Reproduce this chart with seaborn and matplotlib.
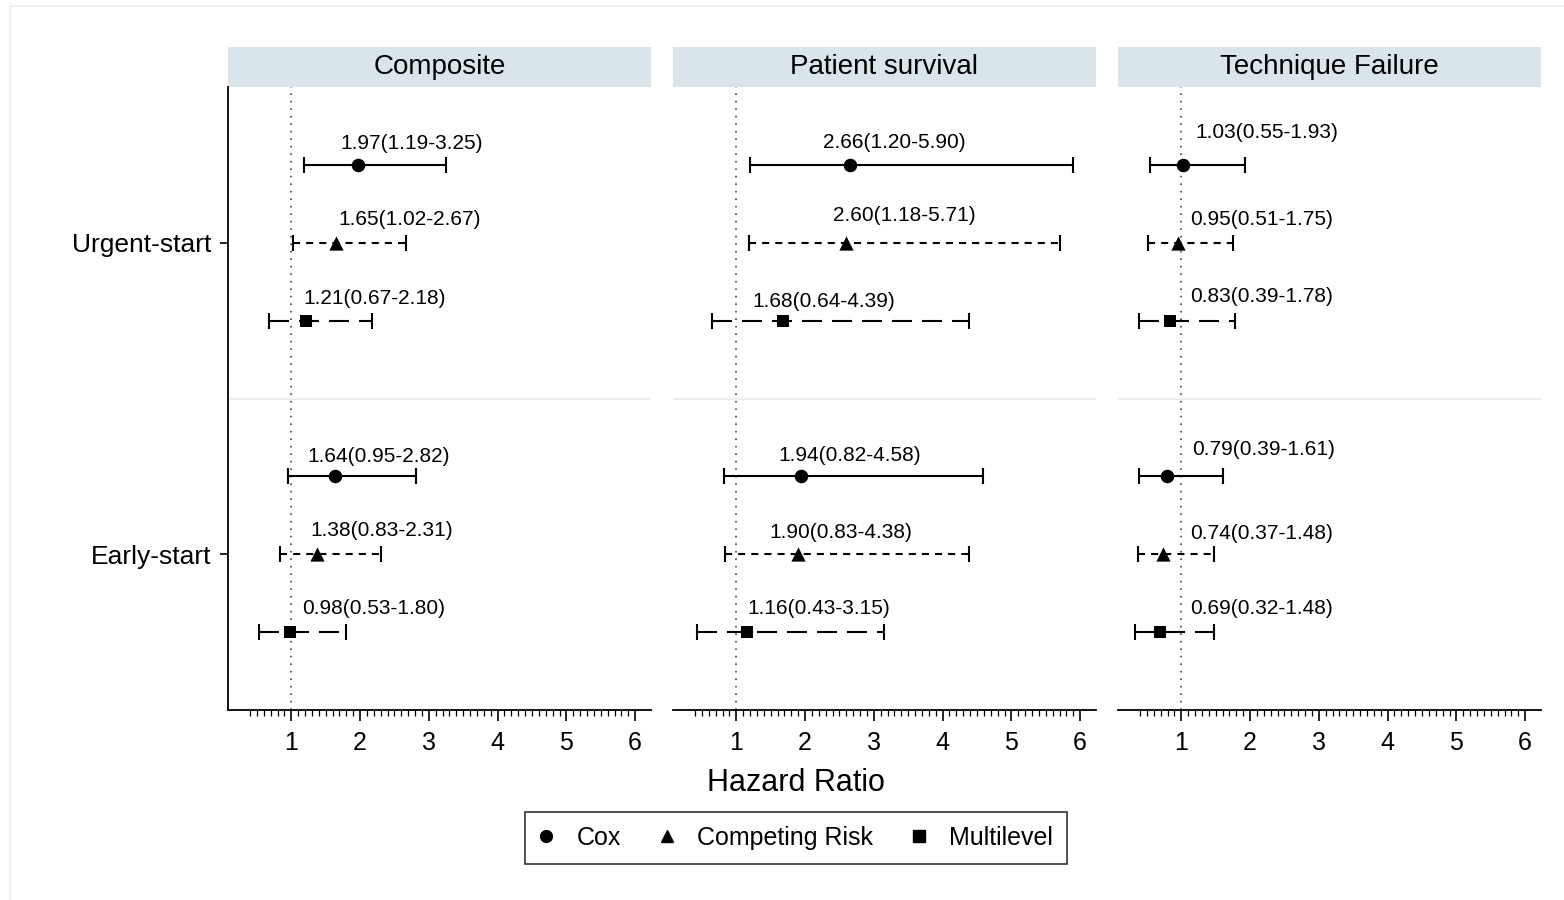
import matplotlib
matplotlib.use("Agg")
import matplotlib.pyplot as plt
from matplotlib.patches import Rectangle
from matplotlib.lines import Line2D
from matplotlib.ticker import FixedLocator
import seaborn as sns
import pandas as pd
import numpy as np

# ---------------- data ----------------
outcomes = ["Composite", "Patient survival", "Technique Failure"]
groups = ["Urgent-start", "Early-start"]
models = ["Cox", "Competing Risk", "Multilevel"]

# order: Urgent (Cox, CR, ML), Early (Cox, CR, ML)
composite_hr = [1.97, 1.65, 1.21, 1.64, 1.38, 0.98]
composite_lo = [1.19, 1.02, 0.67, 0.95, 0.83, 0.53]
composite_hi = [3.25, 2.67, 2.18, 2.82, 2.31, 1.80]

survival_hr = [2.66, 2.60, 1.68, 1.94, 1.90, 1.16]
survival_lo = [1.20, 1.18, 0.64, 0.82, 0.83, 0.43]
survival_hi = [5.90, 5.71, 4.39, 4.58, 4.38, 3.15]

technique_hr = [1.03, 0.95, 0.83, 0.79, 0.74, 0.69]
technique_lo = [0.55, 0.51, 0.39, 0.39, 0.37, 0.32]
technique_hi = [1.93, 1.75, 1.78, 1.61, 1.48, 1.48]

x_ticks = [1, 2, 3, 4, 5, 6]

# ---------------- layout (label placement) ----------------
row_pos = [7, 6, 5, 3, 2, 1]
label_left = [
    [1.71, 1.68, 1.17, 1.23, 1.28, 1.16],
    [2.26, 2.41, 1.23, 1.61, 1.48, 1.16],
    [1.20, 1.13, 1.13, 1.16, 1.13, 1.13],
]
label_y = [
    [7.27, 6.30, 5.29, 3.26, 2.30, 1.30],
    [7.29, 6.35, 5.25, 3.27, 2.28, 1.30],
    [7.41, 6.30, 5.31, 3.34, 2.27, 1.30],
]

rows = []
for oi, (o, hr, lo, hi) in enumerate(zip(
        outcomes,
        [composite_hr, survival_hr, technique_hr],
        [composite_lo, survival_lo, technique_lo],
        [composite_hi, survival_hi, technique_hi])):
    for i in range(6):
        rows.append(dict(outcome=o, group=groups[i // 3], model=models[i % 3],
                         hr=hr[i], lo=lo[i], hi=hi[i], y=row_pos[i],
                         lx=label_left[oi][i], ly=label_y[oi][i]))
df = pd.DataFrame(rows)

# ---------------- style ----------------
sns.set_theme(style="white")
plt.rcParams["font.family"] = ["Liberation Sans", "DejaVu Sans"]
plt.rcParams["text.color"] = "black"
plt.rcParams["xtick.color"] = "black"
plt.rcParams["ytick.color"] = "black"
plt.rcParams["xtick.labelcolor"] = "black"
plt.rcParams["ytick.labelcolor"] = "black"
plt.rcParams["axes.labelcolor"] = "black"

marker_map = {"Cox": "o", "Competing Risk": "^", "Multilevel": "s"}
marker_size = {"Cox": 95, "Competing Risk": 105, "Multilevel": 85}
lw = 1.5
dash_map = {"Cox": "-", "Competing Risk": (0, (3.4, 2.9)), "Multilevel": (0, (9.6, 4.8))}

W, H = 1564, 900
fig = plt.figure(figsize=(W / 100, H / 100), dpi=100)
fig.patch.set_facecolor("white")

# faint outer frame
fig.patches.append(Rectangle((10 / W, -0.1), 1.2, 1 - 6 / H + 0.1, transform=fig.transFigure,
                             fill=False, edgecolor="#e8eeee", lw=1.2, zorder=0))

lefts = [228, 673, 1118]
pw, top, bottom = 423, 87, 710
strip_h = 40
strip_color = "#d9e5ea"
xmin, xmax = 0.08, 6.23
ymin, ymax = 0, 8

for pi, o in enumerate(outcomes):
    ax = fig.add_axes([lefts[pi] / W, (H - bottom) / H, pw / W, (bottom - top) / H])
    sub = df[df.outcome == o]

    ax.axvline(1, color="#444444", lw=1.2, ls=(0, (1, 3.5)), zorder=1)
    ax.axhline(4, color="#e5ecef", lw=1.3, zorder=0)

    for _, r in sub.iterrows():
        ax.plot([r.lo, r.hi], [r.y, r.y], color="black", lw=lw, ls=dash_map[r.model],
                solid_capstyle="butt", dash_capstyle="butt", zorder=2)
        ax.plot([r.lo, r.hi], [r.y, r.y], color="black", lw=0, marker="|",
                markersize=11, markeredgewidth=lw, zorder=2)
        ax.text(r.lx, r.ly, f"{r.hr:.2f}({r.lo:.2f}-{r.hi:.2f})", ha="left", va="center",
                fontsize=15, color="black")

    for m in models:
        s = sub[sub.model == m]
        sns.scatterplot(data=s, x="hr", y="y", marker=marker_map[m], s=marker_size[m],
                        color="black", edgecolor="black", linewidth=0, ax=ax, zorder=3,
                        legend=False)

    ax.set_xlim(xmin, xmax)
    ax.set_ylim(ymin, ymax)
    ax.set_xlabel("")
    ax.set_ylabel("")
    ax.xaxis.set_major_locator(FixedLocator(x_ticks))
    ax.xaxis.set_minor_locator(FixedLocator(np.round(np.arange(0.4, 6.05, 0.1), 2)))
    ax.set_xticklabels([str(t) for t in x_ticks])
    ax.tick_params(axis="x", which="major", direction="out", length=8, width=1.2,
                   labelsize=18, pad=7, bottom=True, color="black", labelcolor="black")
    ax.tick_params(axis="x", which="minor", direction="out", length=4.5, width=0.9,
                   bottom=True, color="black")

    for sp in ["top", "right"]:
        ax.spines[sp].set_visible(False)
    ax.spines["bottom"].set_color("black")
    ax.spines["bottom"].set_linewidth(1.3)
    if pi == 0:
        ax.spines["left"].set_color("black")
        ax.spines["left"].set_linewidth(1.3)
        ax.set_yticks([6, 2])
        ax.set_yticklabels(groups)
        ax.tick_params(axis="y", direction="out", length=6, width=1.2, left=True,
                       labelsize=19, pad=6, color="black", labelcolor="black")
    else:
        ax.spines["left"].set_visible(False)
        ax.set_yticks([])

    # strip header
    ax.add_patch(Rectangle((0, 1), 1, strip_h / (bottom - top), transform=ax.transAxes,
                           clip_on=False, facecolor=strip_color, edgecolor="none"))
    ax.text(0.5, 1 + strip_h / 2 / (bottom - top), o, transform=ax.transAxes,
            ha="center", va="center", fontsize=20, color="black")

fig.text(796 / W, 1 - 783 / H, "Hazard Ratio", ha="center", va="center", fontsize=22,
         color="black")

handles = [Line2D([], [], marker=marker_map[m], color="black", ls="none", markersize=8.5)
           for m in models]
leg = fig.legend(handles, models, loc="center", bbox_to_anchor=(796 / W, 1 - 838 / H),
                 ncol=3, frameon=True, fontsize=18, handlelength=0.6, handletextpad=0.9,
                 columnspacing=1.55, borderpad=0.55, fancybox=False, labelcolor="black")
leg.get_frame().set_edgecolor("black")
leg.get_frame().set_linewidth(1.2)

fig.savefig("out.png", dpi=100, facecolor="white")
